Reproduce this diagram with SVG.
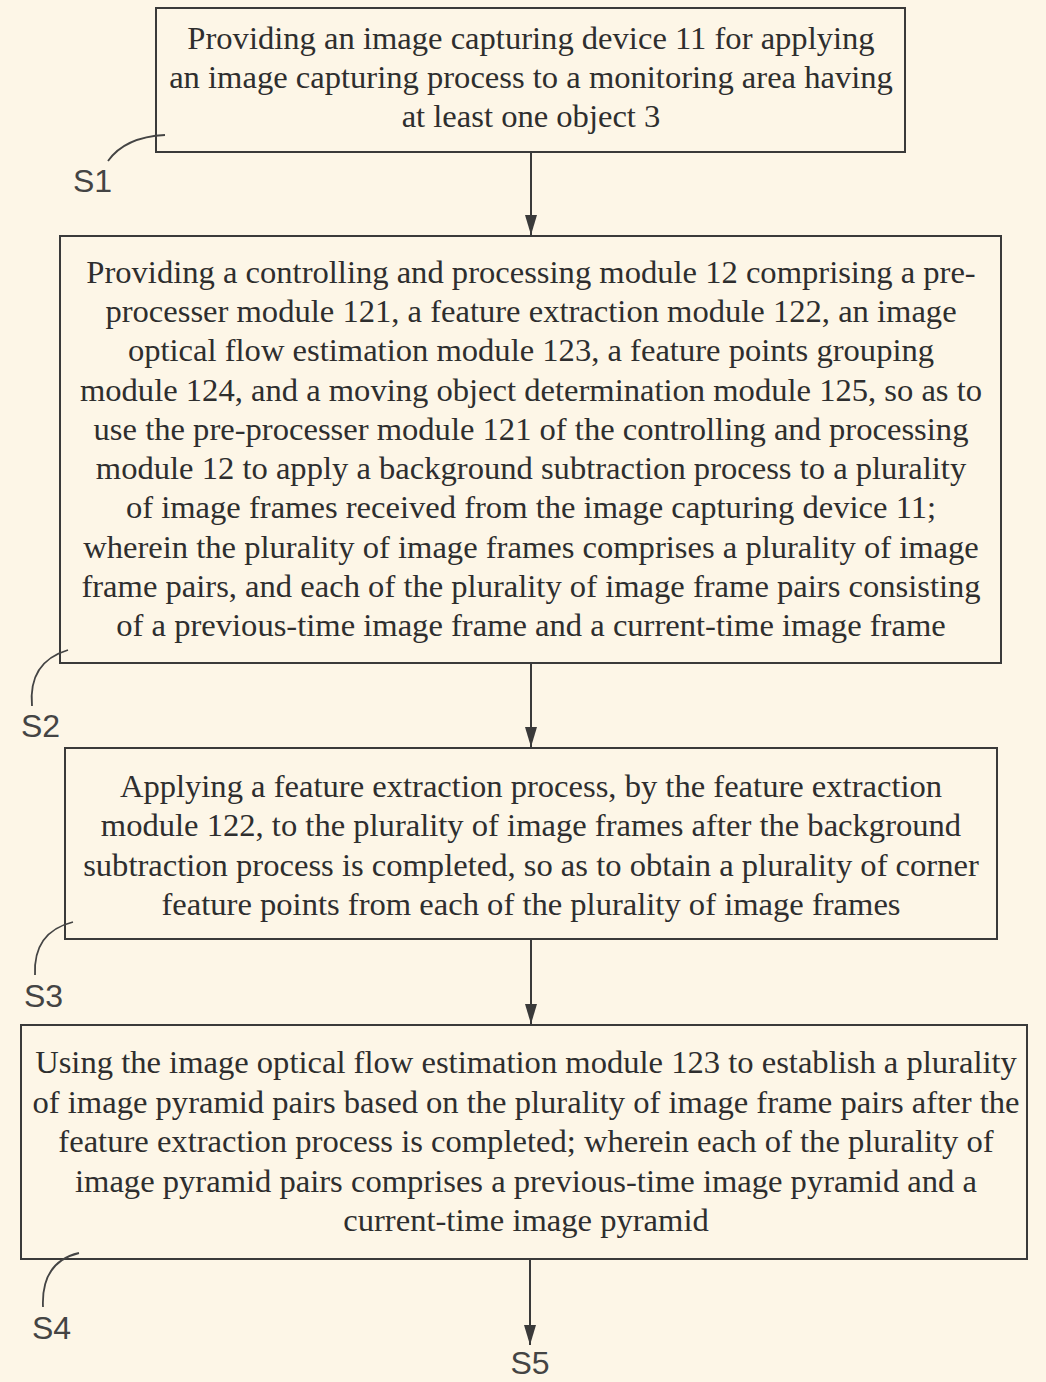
<svg xmlns="http://www.w3.org/2000/svg" width="1046" height="1382" viewBox="0 0 1046 1382">
<defs>
<style>
.box{fill:none;stroke:#3a3a3a;stroke-width:2}
.t{font-family:"Liberation Serif","Times New Roman",serif;font-size:32.6px;fill:#2e2e2e;text-anchor:middle}
.lbl{font-family:"Liberation Sans",Arial,sans-serif;font-size:32px;fill:#444}
.conn{stroke:#3a3a3a;stroke-width:2;fill:none}
.lead{stroke:#444;stroke-width:1.8;fill:none}
</style>
<marker id="ah" markerWidth="22" markerHeight="16" refX="20" refY="8" orient="auto" markerUnits="userSpaceOnUse" viewBox="0 0 22 16">
<path d="M0 2 L20 8 L0 14 Z" fill="#3a3a3a"/>
</marker>
</defs>
<rect width="1046" height="1382" fill="#fdf6e7"/>
<g id="s1">
<rect class="box" x="156" y="8" width="749" height="144"/>
<text class="t" x="531" y="49">Providing an image capturing device 11 for applying</text>
<text class="t" x="531" y="88">an image capturing process to a monitoring area having</text>
<text class="t" x="531" y="127">at least one object 3</text>
<path class="lead" d="M108 161 Q125 137 165 135"/>
<text class="lbl" x="73" y="192">S1</text>
</g>
<g id="s2">
<rect class="box" x="60" y="236" width="941" height="427"/>
<text class="t" x="531" y="283">Providing a controlling and processing module 12 comprising a pre-</text>
<text class="t" x="531" y="322">processer module 121, a feature extraction module 122, an image</text>
<text class="t" x="531" y="361">optical flow estimation module 123, a feature points grouping</text>
<text class="t" x="531" y="401">module 124, and a moving object determination module 125, so as to</text>
<text class="t" x="531" y="440">use the pre-processer module 121 of the controlling and processing</text>
<text class="t" x="531" y="479">module 12 to apply a background subtraction process to a plurality</text>
<text class="t" x="531" y="518">of image frames received from the image capturing device 11;</text>
<text class="t" x="531" y="558">wherein the plurality of image frames comprises a plurality of image</text>
<text class="t" x="531" y="597">frame pairs, and each of the plurality of image frame pairs consisting</text>
<text class="t" x="531" y="636">of a previous-time image frame and a current-time image frame</text>
<path class="lead" d="M32 706 Q28 662 68 650"/>
<text class="lbl" x="21" y="737">S2</text>
</g>
<g id="s3">
<rect class="box" x="65" y="748" width="932" height="191"/>
<text class="t" x="531" y="797">Applying a feature extraction process, by the feature extraction</text>
<text class="t" x="531" y="836">module 122, to the plurality of image frames after the background</text>
<text class="t" x="531" y="876">subtraction process is completed, so as to obtain a plurality of corner</text>
<text class="t" x="531" y="915">feature points from each of the plurality of image frames</text>
<path class="lead" d="M35 975 Q33 932 73 922"/>
<text class="lbl" x="24" y="1007">S3</text>
</g>
<g id="s4">
<rect class="box" x="21" y="1025" width="1006" height="234"/>
<text class="t" x="526" y="1073">Using the image optical flow estimation module 123 to establish a plurality</text>
<text class="t" x="526" y="1113">of image pyramid pairs based on the plurality of image frame pairs after the</text>
<text class="t" x="526" y="1152">feature extraction process is completed; wherein each of the plurality of</text>
<text class="t" x="526" y="1192">image pyramid pairs comprises a previous-time image pyramid and a</text>
<text class="t" x="526" y="1231">current-time image pyramid</text>
<path class="lead" d="M43 1307 Q41 1262 79 1253"/>
<text class="lbl" x="32" y="1339">S4</text>
</g>
<g id="s5">
<text class="lbl" x="530" y="1374" text-anchor="middle">S5</text>
</g>
<g id="connectors">
<line class="conn" x1="531" y1="152" x2="531" y2="235" marker-end="url(#ah)"/>
<line class="conn" x1="531" y1="663" x2="531" y2="747" marker-end="url(#ah)"/>
<line class="conn" x1="531" y1="939" x2="531" y2="1024" marker-end="url(#ah)"/>
<line class="conn" x1="530" y1="1259" x2="530" y2="1345" marker-end="url(#ah)"/>
</g>
</svg>
